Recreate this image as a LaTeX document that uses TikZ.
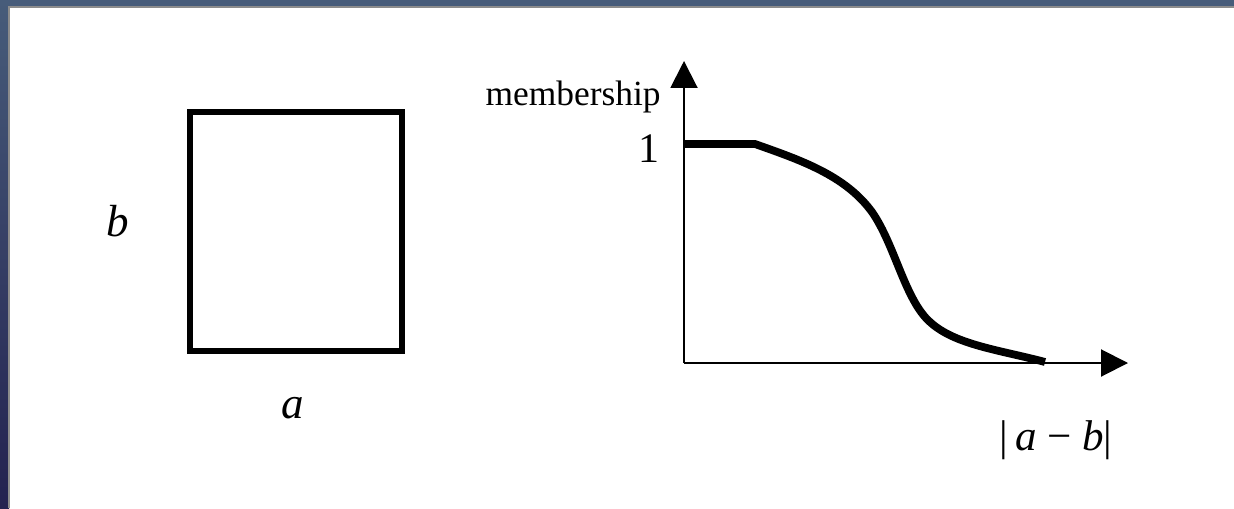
\documentclass[tikz,border=0pt]{standalone}
\usepackage{fontspec}
\setmainfont{Liberation Serif}
\usetikzlibrary{arrows.meta}
\definecolor{slate}{RGB}{71,92,122}
\definecolor{navy}{RGB}{36,34,80}
\definecolor{rim}{RGB}{140,140,140}
\begin{document}
\begin{tikzpicture}[x=0.5pt, y=-0.5pt,
      axis/.style={line width=1pt, -{Triangle[length=13.5pt, width=13.5pt]}},
      curve/.style={line width=3.9pt, line join=round},
      label/.style={inner sep=0pt, font=\fontsize{21}{24}\selectfont},
      letter/.style={label, font=\fontsize{22.5}{26}\selectfont\itshape}
    ]
    \useasboundingbox (0,0) rectangle (1234,508);
    % slide frame
    \fill[white] (0,0) rectangle (1234,508);
    \shade[top color=slate, bottom color=navy] (0,0) rectangle (9,508);
    \fill[slate] (0,0) rectangle (1234,6);
    \fill[rim] (9,6) rectangle (1234,8);
    \fill[rim] (8,6) rectangle (10,508);
    % box with its sides
    \draw[line width=2.6pt] (190,112) rectangle (402,351);
    \node[letter, anchor=base] (b) at (118,236) {b};
    \node[letter, anchor=base] (a) at (293,418) {a};
    % membership axes
    \coordinate (origin) at (684,363);
    \coordinate (ytip)   at (684,61);
    \coordinate (xtip)   at (1128,363);
    \draw[axis] (origin) -- (ytip);
    \draw[axis] (origin) -- (xtip);
    \node[label, anchor=base east, font=\fontsize{17.7}{21}\selectfont] (memb) at (661,105) {membership};
    \node[label, anchor=base east] (one) at (660,162) {1};
    \node[label, anchor=base west, font=\fontsize{21.5}{25}\selectfont] (dist) at (999,450) {|\,\textit{a} − \textit{b}|};
    % membership curve
    \draw[curve] (685,144) -- (755,144)
      .. controls (800,160) and (845,175) .. (872,212)
      .. controls (895,245) and (905,300) .. (930,322)
      .. controls (955,345) and (1000,350) .. (1045,362);
  \end{tikzpicture}
\end{document}
